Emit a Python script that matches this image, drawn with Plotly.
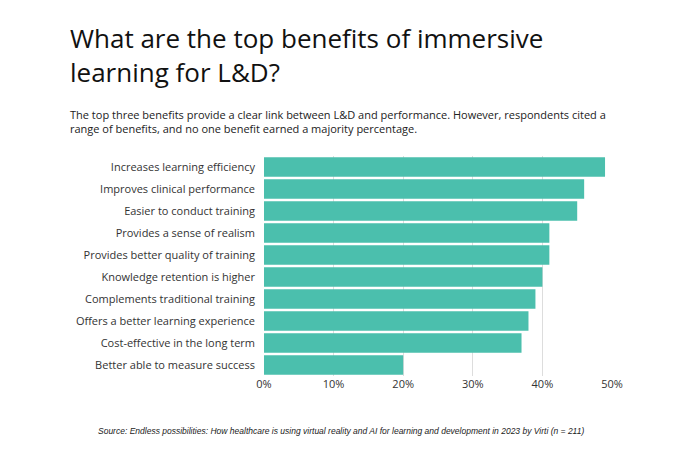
import plotly.graph_objects as go

benefits = ["Increases learning efficiency", "Improves clinical performance", "Easier to conduct training",
            "Provides a sense of realism", "Provides better quality of training", "Knowledge retention is higher",
            "Complements traditional training", "Offers a better learning experience",
            "Cost-effective in the long term", "Better able to measure success"]
percent = [49, 46, 45, 41, 41, 40, 39, 38, 37, 20]

fig = go.Figure(go.Bar(y=benefits, x=percent, orientation="h", marker_color="#4bbfad",
                       marker_line_width=0))

W, H = 348, 220  # plot area size in px
fig.update_layout(
    width=680, height=462, paper_bgcolor="white", plot_bgcolor="white",
    margin=dict(l=256, r=76, t=148, b=94), bargap=0.12, showlegend=False,
    font=dict(family="Open Sans", color="#333333"),
)
fig.update_xaxes(range=[0, 50], dtick=10, ticksuffix="%", showgrid=True, gridcolor="#dddddd",
                 zeroline=False, tickfont=dict(size=11, color="#333333"), fixedrange=True,
                 automargin=False)
fig.update_yaxes(autorange="reversed", tickfont=dict(size=11, color="#333333"), ticks="",
                 ticklabelstandoff=8, fixedrange=True, automargin=False)

fig.add_annotation(text="What are the top benefits of immersive<br>learning for L&amp;D?", xref="paper", yref="paper",
                   x=(60 - 256) / W, y=1 + (148 - 10) / H, xanchor="left", yanchor="top", align="left",
                   showarrow=False, font=dict(size=26, color="#111111", family="Open Sans"))
fig.add_annotation(text="The top three benefits provide a clear link between L&amp;D and performance. However, respondents cited a<br>range of benefits, and no one benefit earned a majority percentage.",
                   xref="paper", yref="paper", x=(60 - 256) / W, y=1 + (148 - 97) / H, xanchor="left", yanchor="top",
                   align="left", showarrow=False, font=dict(size=11, color="#222222", family="Open Sans"))
fig.add_annotation(text="<i>Source: Endless possibilities: How healthcare is using virtual reality and AI for learning and development in 2023 by Virti (n = 211)</i>",
                   xref="paper", yref="paper", x=(88 - 256) / W, y=-(416 - 368) / H, xanchor="left", yanchor="top",
                   showarrow=False, font=dict(size=8.5, color="#222222", family="Liberation Sans"))

fig.write_html("out.html")
